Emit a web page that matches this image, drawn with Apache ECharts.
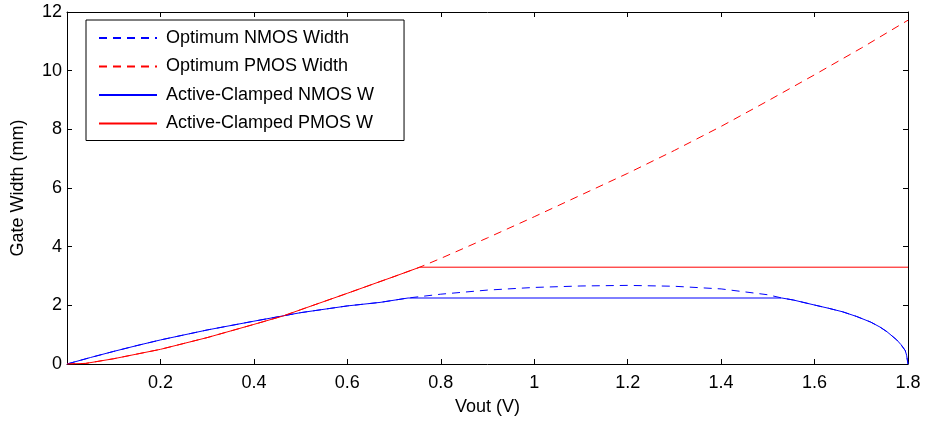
<!DOCTYPE html>
<html><head><meta charset="utf-8">
<script src="https://cdn.jsdelivr.net/npm/echarts@6/dist/echarts.min.js"></script>
<style>html,body{margin:0;padding:0;background:#fff}#c{width:925px;height:421px}</style>
</head><body><div id="c"></div>
<script>
const seriesNames = ['Optimum NMOS Width','Optimum PMOS Width','Active-Clamped NMOS W','Active-Clamped PMOS W'];
const xTicks = {min:0, max:1.8, interval:0.2};
const yTicks = {min:0, max:12, interval:2};

const nmosOptX = [0,0.05,0.1,0.15,0.2,0.3,0.4,0.5,0.6,0.67,0.73,0.8,0.9,1.0,1.1,1.2,1.3,1.4,1.45,1.5,1.53,1.555,1.6,1.63,1.66,1.69,1.72,1.74,1.755,1.776,1.785,1.794,1.797,1.8];
const nmosOptY = [0,0.22,0.43,0.63,0.82,1.16,1.46,1.75,1.98,2.10,2.25,2.38,2.52,2.61,2.66,2.68,2.65,2.56,2.46,2.36,2.25,2.18,2.01,1.90,1.78,1.62,1.43,1.26,1.10,0.82,0.66,0.46,0.30,0];

const pmosOptX = [0,0.04,0.1,0.2,0.3,0.4,0.463,0.5,0.6,0.67,0.7,0.755,0.8,0.9,1.0,1.1,1.2,1.3,1.4,1.5,1.6,1.7,1.8];
const pmosOptY = [0,0.02,0.18,0.5,0.9,1.35,1.64,1.85,2.41,2.81,2.98,3.3,3.6,4.3,5.02,5.76,6.5,7.28,8.1,8.97,9.86,10.77,11.72];

const nmosClampX = [0,0.05,0.1,0.15,0.2,0.3,0.4,0.5,0.6,0.67,0.73,1.53,1.555,1.6,1.63,1.66,1.69,1.72,1.74,1.755,1.776,1.785,1.794,1.797,1.8];
const nmosClampY = [0,0.22,0.43,0.63,0.82,1.16,1.46,1.75,1.98,2.10,2.25,2.25,2.18,2.01,1.90,1.78,1.62,1.43,1.26,1.10,0.82,0.66,0.46,0.30,0];

const pmosClampX = [0,0.04,0.1,0.2,0.3,0.4,0.463,0.5,0.6,0.67,0.7,0.755,1.8];
const pmosClampY = [0,0.02,0.18,0.5,0.9,1.35,1.64,1.85,2.41,2.81,2.98,3.3,3.3];

const zip = (xs, ys) => xs.map((x, i) => [x, ys[i]]);
const FONT = 'Liberation Sans, Arial, sans-serif';
const FS = 18;
const fmt = v => String(+v.toFixed(2));

const axisCommon = {
  type: 'value',
  axisLine: {show: true, onZero: false, lineStyle: {color: '#000', width: 1}},
  axisTick: {show: true, inside: true, length: 5, lineStyle: {color: '#000', width: 1}},
  splitLine: {show: false},
};

const chart = echarts.init(document.getElementById('c'), null, {renderer: 'canvas'});
chart.setOption({
  animation: false,
  backgroundColor: '#fff',
  grid: {left: 67, right: 17, top: 12, bottom: 57, containLabel: false, outerBoundsMode: 'none'},
  legend: {
    orient: 'vertical', left: 86, top: 20,
    data: seriesNames,
    backgroundColor: '#fff', borderColor: '#000', borderWidth: 1,
    padding: [9, 30, 8, 12],
    itemWidth: 58, itemHeight: 14, itemGap: 10.5,
    itemStyle: {opacity: 0},
    textStyle: {fontFamily: FONT, fontSize: FS, color: '#000', padding: [0, 0, 0, 4]},
  },
  xAxis: [
    Object.assign({}, axisCommon, {
      position: 'bottom', min: xTicks.min, max: xTicks.max, interval: xTicks.interval,
      name: 'Vout (V)', nameLocation: 'middle', nameGap: 34,
      nameTextStyle: {fontFamily: FONT, fontSize: FS, color: '#000'},
      axisLabel: {fontFamily: FONT, fontSize: FS, color: '#000', margin: 10,
        formatter: v => (Math.abs(v) < 1e-9 ? '' : fmt(v))},
    }),
    Object.assign({}, axisCommon, {
      position: 'top', min: xTicks.min, max: xTicks.max, interval: xTicks.interval,
      axisLabel: {show: false},
    }),
  ],
  yAxis: [
    Object.assign({}, axisCommon, {
      position: 'left', min: yTicks.min, max: yTicks.max, interval: yTicks.interval,
      name: 'Gate Width (mm)', nameLocation: 'middle', nameGap: 40,
      nameTextStyle: {fontFamily: FONT, fontSize: FS, color: '#000'},
      axisLabel: {fontFamily: FONT, fontSize: FS, color: '#000', margin: 5, formatter: fmt},
    }),
    Object.assign({}, axisCommon, {
      position: 'right', min: yTicks.min, max: yTicks.max, interval: yTicks.interval,
      axisLabel: {show: false},
    }),
  ],
  series: [
    {name: seriesNames[0], type: 'line', data: zip(nmosOptX, nmosOptY), showSymbol: false, symbol: 'none',
     lineStyle: {color: '#0000ff', width: 1, type: [8, 6]}, itemStyle: {color: '#0000ff'}},
    {name: seriesNames[1], type: 'line', data: zip(pmosOptX, pmosOptY), showSymbol: false, symbol: 'none',
     lineStyle: {color: '#ff0000', width: 1, type: [8, 6]}, itemStyle: {color: '#ff0000'}},
    {name: seriesNames[2], type: 'line', data: zip(nmosClampX, nmosClampY), showSymbol: false, symbol: 'none',
     lineStyle: {color: '#0000ff', width: 1}, itemStyle: {color: '#0000ff'}},
    {name: seriesNames[3], type: 'line', data: zip(pmosClampX, pmosClampY), showSymbol: false, symbol: 'none',
     lineStyle: {color: '#ff0000', width: 1}, itemStyle: {color: '#ff0000'}},
  ],
});
</script></body></html>
